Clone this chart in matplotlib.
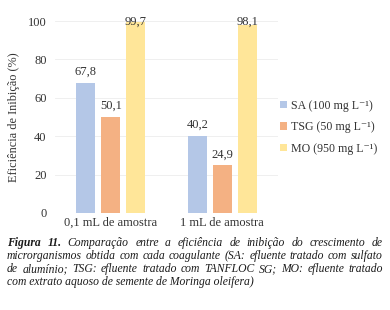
import matplotlib
matplotlib.use('Agg')
import matplotlib.pyplot as plt
import numpy as np

plt.rcParams['font.family'] = ['Liberation Serif', 'DejaVu Serif']

groups = ['0,1 mL de amostra', '1 mL de amostra']
series = ['SA (100 mg L\u207b\u00b9)', 'TSG (50 mg L\u207b\u00b9)', 'MO (950 mg L\u207b\u00b9)']
sa = [67.8, 40.2]
tsg = [50.1, 24.9]
mo = [99.7, 98.1]
colors = ['#b4c7e7', '#f4b183', '#ffe699']

caption_lines = [
    'Comparação entre a eficiência de inibição do crescimento de',
    'microrganismos obtida com cada coagulante (SA: efluente tratado com sulfato',
    'de alumínio; TSG: efluente tratado com TANFLOC SG; MO: efluente tratado',
    'com extrato aquoso de semente de Moringa oleifera)',
]

fig = plt.figure(figsize=(3.9, 3.1), dpi=100)
ax = fig.add_axes([0.141, 0.313, 0.572, 0.619])

x = np.arange(len(groups))
w = 0.17
off = 0.224
for i, (vals, lab, c) in enumerate(zip([sa, tsg, mo], series, colors)):
    bars = ax.bar(x + (i - 1) * off, vals, w, color=c, label=lab, zorder=2)
    for b, v in zip(bars, vals):
        ax.text(b.get_x() + b.get_width() / 2, min(v + 2.5, 96.5),
                f'{v:.1f}'.replace('.', ','),
                ha='center', va='bottom', fontsize=9, color='#333333', zorder=3)

ax.set_xlim(-0.5, 1.5)
ax.set_ylim(0, 100)
ax.set_yticks(range(0, 101, 20))
ax.set_xticks(x)
ax.set_xticklabels(groups, fontsize=9, color='#333333')
ax.tick_params(axis='y', labelsize=9, colors='#333333', length=0, pad=6)
ax.tick_params(axis='x', length=0, pad=3)
ax.grid(axis='y', color='#ececec', linewidth=0.6, zorder=0)
for s in ax.spines.values():
    s.set_visible(False)
ax.set_ylabel('Eficiência de Inibição (%)', fontsize=8.8, color='#333333', labelpad=6)

fig.legend(loc='center left', bbox_to_anchor=(0.69, 0.59), frameon=False,
           fontsize=8.6, handlelength=0.6, handleheight=0.6, handletextpad=0.3,
           labelspacing=0.8, labelcolor='#333333')

# caption, justified by hand
renderer = fig.canvas.get_renderer()
x0, x1 = 7 / 390, 383 / 390
ys = [1 - 246 / 310, 1 - 259 / 310, 1 - 272 / 310, 1 - 285 / 310]
fs = 8.4


def place_line(words, y, styles):
    items = []
    for wd, st in zip(words, styles):
        t = fig.text(0, y, wd, fontsize=fs, style='italic', weight=st,
                     va='baseline', ha='left', color='#1a1a1a')
        items.append(t)
    widths = [t.get_window_extent(renderer).width / fig.bbox.width for t in items]
    gap = (x1 - x0 - sum(widths)) / (len(items) - 1)
    pos = x0
    for t, wdt in zip(items, widths):
        t.set_x(pos)
        pos += wdt + gap


for k, line in enumerate(caption_lines[:3]):
    words = line.split(' ')
    styles = ['normal'] * len(words)
    if k == 0:
        words = ['Figura', '11.'] + words
        styles = ['bold', 'bold'] + styles
    place_line(words, ys[k], styles)
fig.text(x0, ys[3], caption_lines[3], fontsize=fs, style='italic',
         va='baseline', ha='left', color='#1a1a1a')

fig.savefig('out.png', dpi=100)
